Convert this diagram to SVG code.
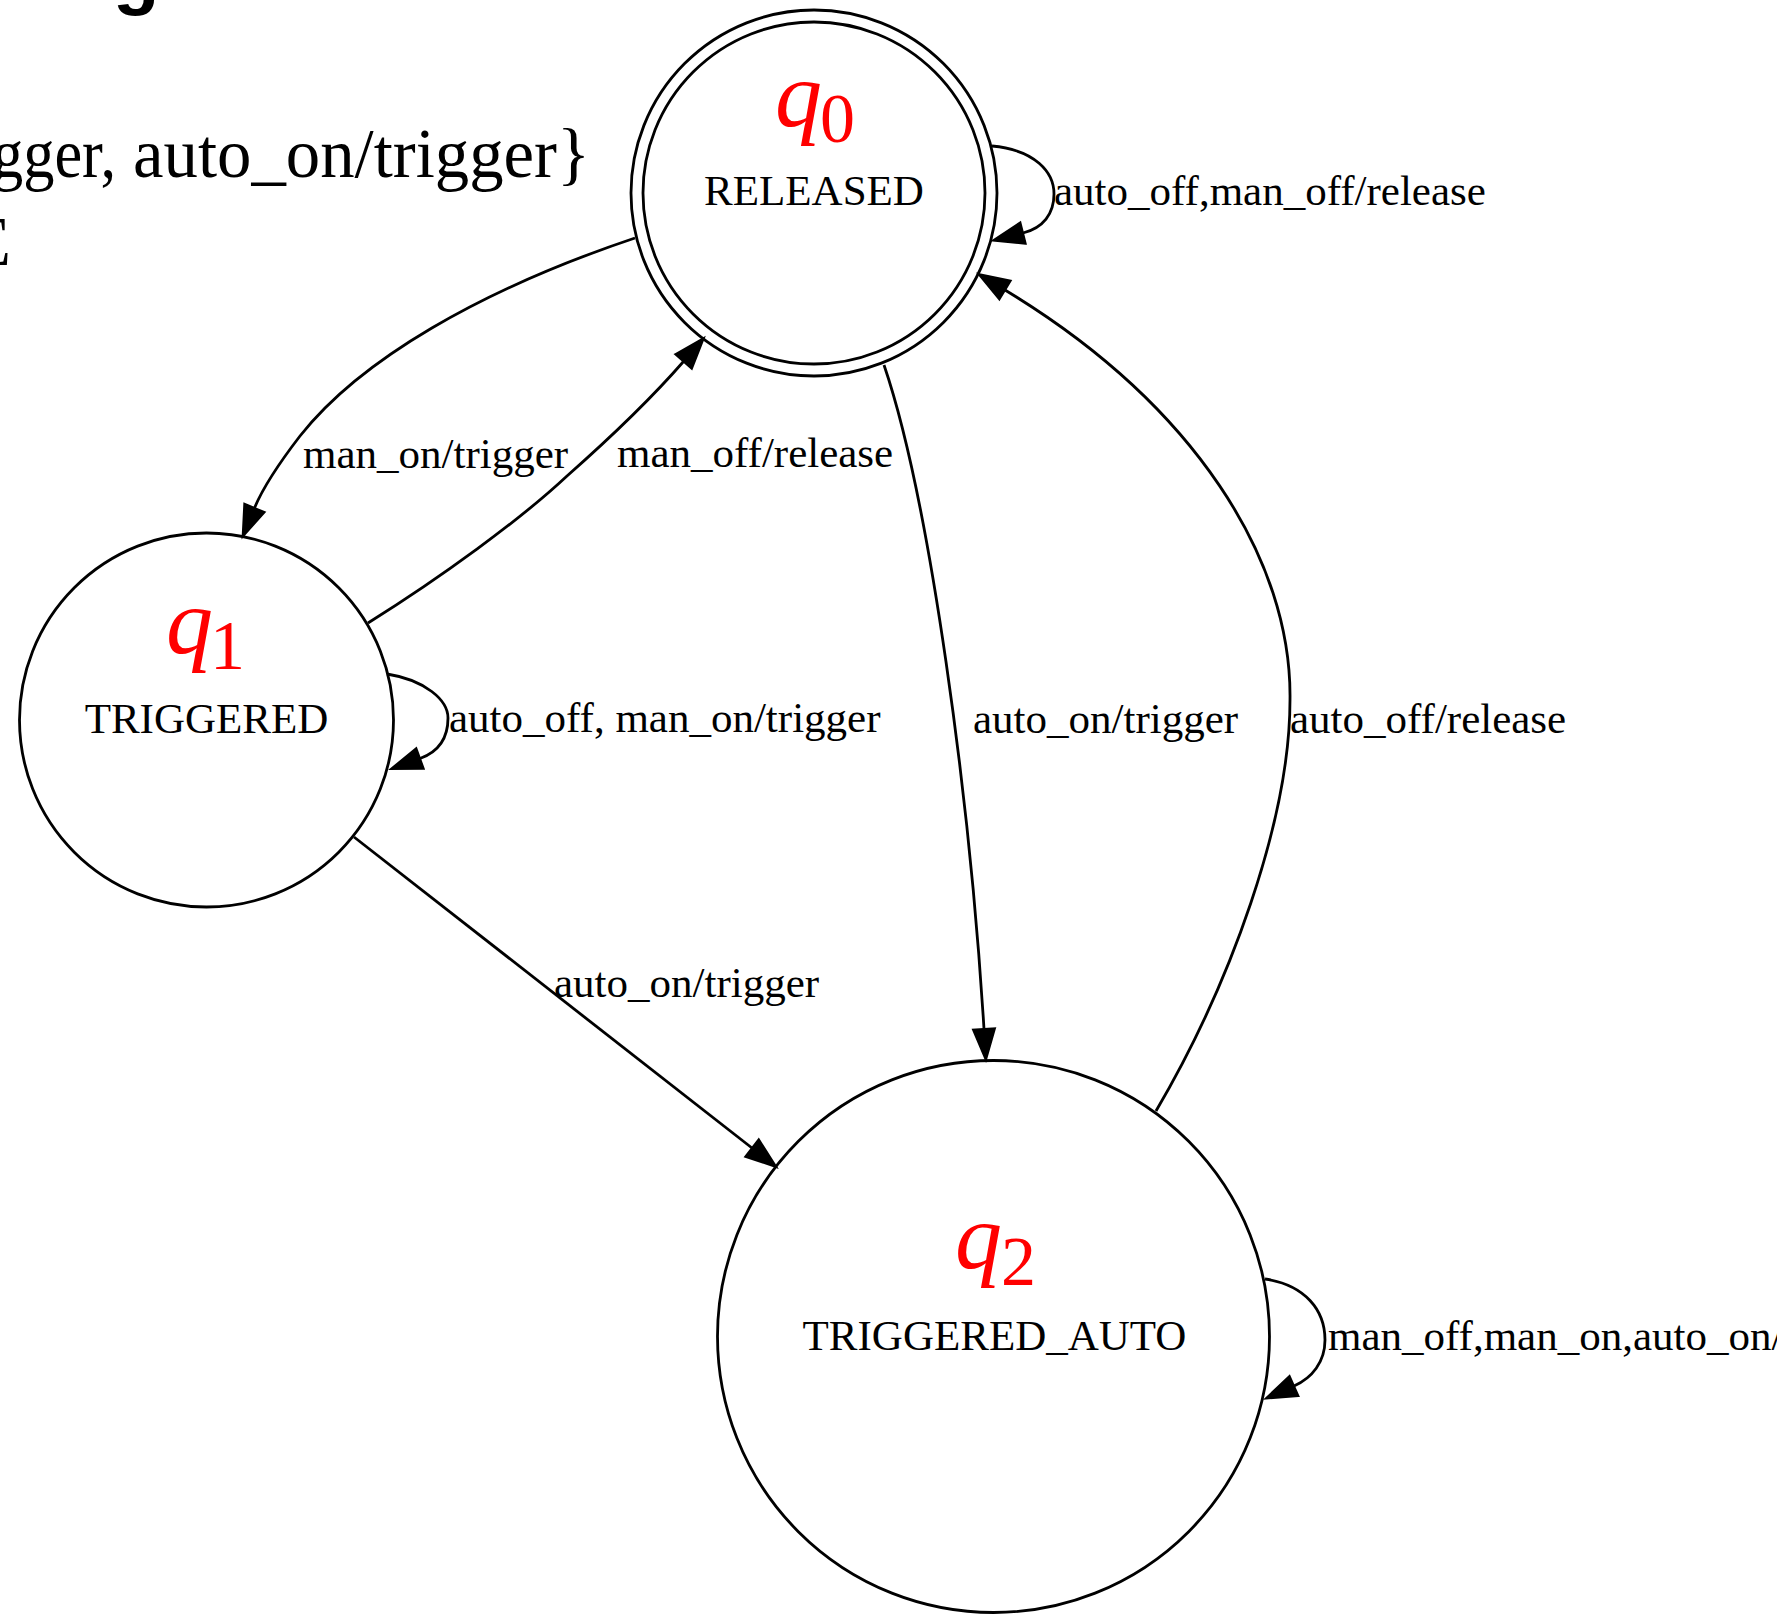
<svg xmlns="http://www.w3.org/2000/svg" width="1777" height="1614" viewBox="0 0 1777 1614">
<defs>
<style>
.node{fill:none;stroke:#000;stroke-width:2.8}
.edge{fill:none;stroke:#000;stroke-width:2.8}
.lbl{font-family:"Liberation Serif","Times New Roman",serif;font-size:43px;fill:#000}
.q{font-family:"Liberation Serif","Times New Roman",serif;font-style:italic;font-size:94px;fill:#ff0000}
.sub{font-family:"Liberation Serif","Times New Roman",serif;font-size:70px;fill:#ff0000}
.tex{font-family:"Liberation Serif","Times New Roman",serif;font-size:70px;fill:#000}
</style>
<marker id="arr" markerUnits="userSpaceOnUse" markerWidth="40" markerHeight="30" refX="0" refY="11" orient="auto" overflow="visible">
<path d="M0,0 L31,11 L0,22 Z" fill="#000" stroke="#000" stroke-width="2"/>
</marker>
</defs>
<rect width="1777" height="1614" fill="#fff"/>
<text x="113" y="0" font-family="Liberation Sans, Arial, sans-serif" font-weight="bold" font-size="76">g</text>
<text class="tex" x="-8" y="177" textLength="124" lengthAdjust="spacingAndGlyphs">gger,</text>
<text class="tex" x="133" y="177" textLength="457" lengthAdjust="spacingAndGlyphs">auto_on/trigger}</text>
<text class="tex" x="11" y="265" text-anchor="end">E</text>
<g id="edges">
<g id="e_q0_q0"><path class="edge" d="M992,146 C1035,150 1054,172 1054,194 C1054,214 1043,228 1023,233" marker-end="url(#arr)"/><text class="lbl" x="1054" y="205">auto_off,man_off/release</text></g>
<g id="e_q0_q1"><path class="edge" d="M635,238 C480,290 360,360 300,436 C280,462 264,485 254.5,508" marker-end="url(#arr)"/><text class="lbl" x="303" y="468">man_on/trigger</text></g>
<g id="e_q1_q0"><path class="edge" d="M368,623 C440,578 520,520 567,476 C610,438 650,400 683.5,361.5" marker-end="url(#arr)"/><text class="lbl" x="617" y="467">man_off/release</text></g>
<g id="e_q1_q1"><path class="edge" d="M387,674 C425,680 448,700 448,718 C448,738 438,752 420,758.5" marker-end="url(#arr)"/><text class="lbl" x="449" y="732">auto_off, man_on/trigger</text></g>
<g id="e_q0_q2"><path class="edge" d="M884,365 C930,500 970,800 984,1029" marker-end="url(#arr)"/><text class="lbl" x="973" y="733">auto_on/trigger</text></g>
<g id="e_q2_q0"><path class="edge" d="M1156,1111 C1230,985 1290,820 1290,700 C1292,560 1195,405 1005,290" marker-end="url(#arr)"/><text class="lbl" x="1290" y="733">auto_off/release</text></g>
<g id="e_q1_q2"><path class="edge" d="M354,837 L752,1148" marker-end="url(#arr)"/><text class="lbl" x="554" y="997">auto_on/trigger</text></g>
<g id="e_q2_q2"><path class="edge" d="M1265,1279 C1305,1285 1325,1310 1325,1340 C1325,1362 1312,1378 1294,1386" marker-end="url(#arr)"/><text class="lbl" x="1328" y="1350">man_off,man_on,auto_on/</text></g>
</g>
<g id="q0">
<circle class="node" cx="814" cy="193" r="183"/>
<circle class="node" cx="814" cy="193" r="171"/>
<text class="q" x="775" y="126">q</text><text class="sub" x="820" y="142">0</text>
<text class="lbl" x="814" y="205" text-anchor="middle">RELEASED</text>
</g>
<g id="q1">
<circle class="node" cx="206.5" cy="720" r="187"/>
<text class="q" x="166" y="653">q</text><text class="sub" x="210" y="669">1</text>
<text class="lbl" x="206.5" y="733" text-anchor="middle">TRIGGERED</text>
</g>
<g id="q2">
<circle class="node" cx="993.5" cy="1336.5" r="276"/>
<text class="q" x="955" y="1268">q</text><text class="sub" x="1001" y="1285">2</text>
<text class="lbl" x="994.5" y="1350" text-anchor="middle">TRIGGERED_AUTO</text>
</g>
</svg>
